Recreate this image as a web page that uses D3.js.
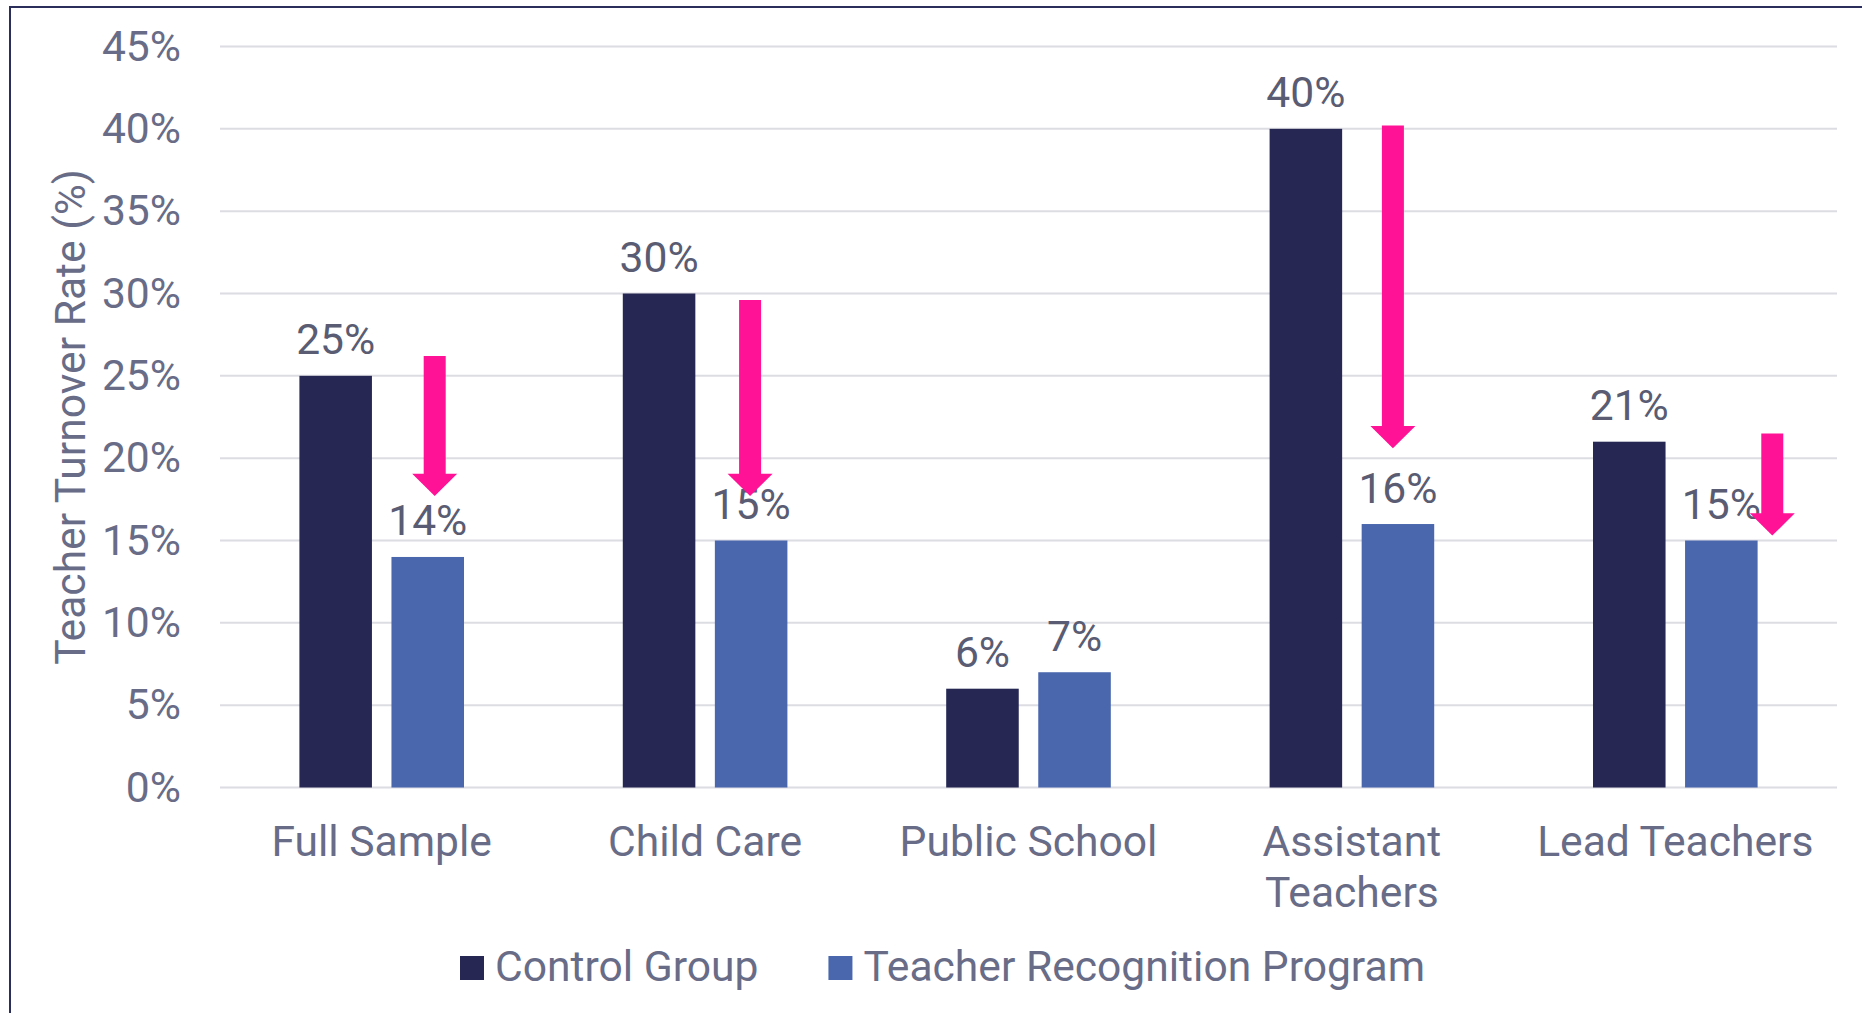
<!DOCTYPE html>
<html>
<head>
<meta charset="utf-8">
<script src="https://cdn.jsdelivr.net/npm/d3@7"></script>
<style>
  html, body { margin: 0; padding: 0; background: #ffffff; }
  svg { display: block; font-family: Roboto, "Open Sans", sans-serif; }
</style>
</head>
<body>
<svg id="chart" width="1862" height="1013"></svg>
<script>
// Teacher turnover rate by group, control vs. recognition program
const categories = ["Full Sample", "Child Care", "Public School", "Assistant Teachers", "Lead Teachers"];
const seriesNames = ["Control Group", "Teacher Recognition Program"];
const controlValues = [25, 30, 6, 40, 21];
const programValues = [14, 15, 7, 16, 15];
const yTicks = [0, 5, 10, 15, 20, 25, 30, 35, 40, 45];

// Pink "drop" arrows: category, start value, end value (in % units)
const arrowCategories = ["Full Sample", "Child Care", "Assistant Teachers", "Lead Teachers"];
const arrowFrom = [26.2, 29.6, 40.2, 21.5];
const arrowTo = [17.7, 17.7, 20.6, 15.3];
const arrowShift = [53, 45, 41, 97];   // horizontal offset from the group centre, px

const colors = ["#262853", "#4a67ad"];
const arrowColor = "#ff1296";
const axisText = "#686c87";
const labelText = "#595c72";
const gridColor = "#dcdce3";
const fontSize = 42.6;

const svg = d3.select("#chart");
const W = 1862, H = 1013;
const plot = { left: 220, right: 1837, top: 46.5, bottom: 787.5 };

// frame
svg.append("rect")
  .attr("x", 10).attr("y", 7)
  .attr("width", W + 20).attr("height", H + 20)
  .attr("fill", "none").attr("stroke", "#2b2d5a").attr("stroke-width", 2);

const y = d3.scaleLinear().domain([0, 45]).range([plot.bottom, plot.top]);

const x0 = d3.scaleBand()
  .domain(categories)
  .range([plot.left, plot.right])
  .paddingInner(0.491)
  .paddingOuter(0.2455);

const x1 = d3.scaleBand()
  .domain(seriesNames)
  .range([0, x0.bandwidth()])
  .paddingInner(0.212);

// gridlines
svg.append("g")
  .selectAll("line")
  .data(yTicks)
  .join("line")
  .attr("x1", plot.left).attr("x2", plot.right)
  .attr("y1", d => y(d)).attr("y2", d => y(d))
  .attr("stroke", gridColor).attr("stroke-width", 2);

// y axis tick labels
const yAxis = d3.axisLeft(y).tickValues(yTicks).tickFormat(d => d + "%").tickSize(0).tickPadding(0);
const yAxisG = svg.append("g").attr("transform", `translate(181,0)`).call(yAxis);
yAxisG.select(".domain").remove();
yAxisG.selectAll("text")
  .attr("fill", axisText)
  .style("font-size", fontSize + "px")
  .style("font-family", "Roboto, sans-serif");

// y axis title
svg.append("text")
  .attr("transform", `translate(85,${(plot.top + plot.bottom) / 2}) rotate(-90)`)
  .attr("text-anchor", "middle")
  .attr("fill", axisText)
  .style("font-size", fontSize + "px")
  .text("Teacher Turnover Rate (%)");

// bars
const rows = categories.map((c, i) => ({
  category: c,
  values: [
    { series: seriesNames[0], value: controlValues[i], color: colors[0] },
    { series: seriesNames[1], value: programValues[i], color: colors[1] }
  ]
}));

const groups = svg.append("g")
  .selectAll("g")
  .data(rows)
  .join("g")
  .attr("transform", d => `translate(${x0(d.category)},0)`);

groups.selectAll("rect")
  .data(d => d.values)
  .join("rect")
  .attr("x", d => x1(d.series))
  .attr("width", x1.bandwidth())
  .attr("y", d => y(d.value))
  .attr("height", d => y(0) - y(d.value))
  .attr("fill", d => d.color);

// value labels
groups.selectAll("text")
  .data(d => d.values)
  .join("text")
  .attr("x", d => x1(d.series) + x1.bandwidth() / 2)
  .attr("y", d => y(d.value) - 21.5)
  .attr("text-anchor", "middle")
  .attr("fill", labelText)
  .style("font-size", fontSize + "px")
  .text(d => d.value + "%");

// category labels (wrap two-word labels that would be too wide)
const xAxisG = svg.append("g");
categories.forEach(c => {
  const cx = x0(c) + x0.bandwidth() / 2;
  const lines = c === "Assistant Teachers" ? ["Assistant", "Teachers"] : [c];
  const t = xAxisG.append("text")
    .attr("x", cx).attr("y", 856)
    .attr("text-anchor", "middle")
    .attr("fill", axisText)
    .style("font-size", fontSize + "px");
  lines.forEach((ln, i) => {
    t.append("tspan").attr("x", cx).attr("dy", i === 0 ? 0 : 50.7).text(ln);
  });
});

// arrows
const shaftW = 22, headHalf = 22.5, headH = 22.3;
const arrowG = svg.append("g");
arrowCategories.forEach((c, i) => {
  const cx = x0(c) + x0.bandwidth() / 2 + arrowShift[i];
  const yTop = y(arrowFrom[i]);
  const yTip = y(arrowTo[i]);
  const yBase = yTip - headH;
  const p = d3.path();
  p.moveTo(cx - shaftW / 2, yTop);
  p.lineTo(cx + shaftW / 2, yTop);
  p.lineTo(cx + shaftW / 2, yBase);
  p.lineTo(cx + headHalf, yBase);
  p.lineTo(cx, yTip);
  p.lineTo(cx - headHalf, yBase);
  p.lineTo(cx - shaftW / 2, yBase);
  p.closePath();
  arrowG.append("path").attr("d", p.toString()).attr("fill", arrowColor);
});

// legend
const legend = svg.append("g");
let lx = 460;
seriesNames.forEach((s, i) => {
  legend.append("rect")
    .attr("x", lx).attr("y", 956).attr("width", 24).attr("height", 24)
    .attr("fill", colors[i]);
  const t = legend.append("text")
    .attr("x", lx + 35).attr("y", 981)
    .attr("fill", axisText)
    .style("font-size", fontSize + "px")
    .text(s);
  lx = lx + 35 + t.node().getComputedTextLength() + 70;
});
</script>
</body>
</html>
